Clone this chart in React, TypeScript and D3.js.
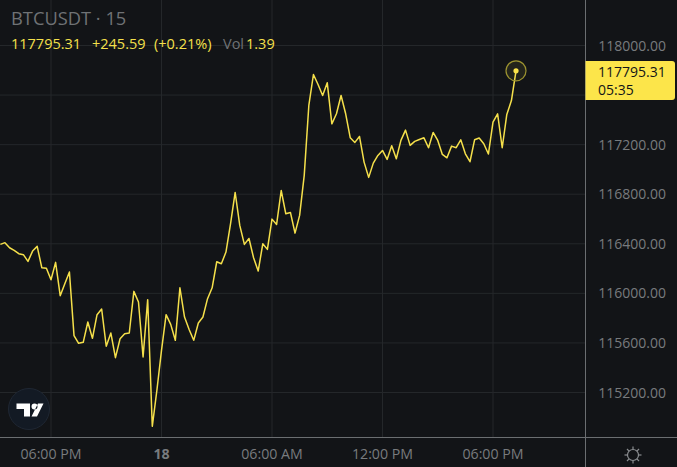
import { useMemo } from 'react'
import * as d3 from 'd3'

// 15 minute closes. Index 11 is the 06:00 PM bar
const closes = [
  116395, 116409, 116368, 116347, 116320, 116312, 116258, 116341, 116379, 116207, 116202, 116110,
  116250, 115981, 116078, 116172, 115659, 115597, 115605, 115769, 115637, 115828, 115874, 115573,
  115680, 115481, 115634, 115675, 115680, 116016, 115930, 115487, 115949, 114927,
  115218, 115540, 115828, 115750, 115621, 116045, 115809, 115709, 115621, 115761, 115809, 115957,
  116045, 116255, 116239, 116333, 116562, 116814, 116548, 116395, 116443, 116287, 116180, 116400,
  116355, 116599, 116556, 116830, 116642, 116653, 116486, 116629,
  116952, 117516, 117766, 117685, 117597, 117699, 117368, 117449, 117597, 117449, 117255, 117218,
  117266, 117059, 116936, 117051, 117113, 117153, 117081, 117191, 117086, 117234, 117317, 117194,
  117226, 117242, 117255, 117175, 117298, 117234, 117121, 117094, 117188, 117175, 117239, 117126,
  117062, 117239, 117253, 117207, 117124, 117382, 117449, 117175, 117444, 117556, 117795.31,
]

const priceTicks = [118000, 117600, 117200, 116800, 116400, 116000, 115600, 115200]
const priceLabels = [118000, 117200, 116800, 116400, 116000, 115600, 115200]
const timeTicks = [
  { bar: 11, label: '06:00 PM', bold: false },
  { bar: 35, label: '18', bold: true },
  { bar: 59, label: '06:00 AM', bold: false },
  { bar: 83, label: '12:00 PM', bold: false },
  { bar: 107, label: '06:00 PM', bold: false },
]
const lastPrice = '117795.31'
const countdown = '05:35'

const W = 677
const H = 467
const paneW = 585.5
const paneH = 437.5
const font = '"Open Sans", sans-serif'

export default function App() {
  const x = useMemo(() => d3.scaleLinear().domain([11, 107]).range([51, 493]), [])
  const y = useMemo(() => d3.scaleLinear().domain([118000, 115200]).range([45.5, 392.5]), [])

  const line = d3.line<number>()
    .x((_, i) => x(i))
    .y(d => y(d))

  const lastX = x(closes.length - 1)
  const lastY = y(closes[closes.length - 1])

  const sunRays = d3.range(8).map(i => (i * Math.PI) / 4)

  return (
    <svg
      width={W}
      height={H}
      viewBox={`0 0 ${W} ${H}`}
      style={{ position: 'absolute', left: 0, top: 0, background: '#121417', fontFamily: font }}
    >
      {/* grid */}
      {priceTicks.map(p => (
        <line key={p} x1={0} x2={paneW} y1={y(p)} y2={y(p)} stroke="#24272a" strokeWidth={1} />
      ))}
      {timeTicks.map(t => (
        <line key={t.bar} x1={x(t.bar)} x2={x(t.bar)} y1={0} y2={paneH} stroke="#24272a" strokeWidth={1} />
      ))}

      {/* price line */}
      <path d={line(closes) ?? ''} fill="none" stroke="#f5e04b" strokeWidth={1.5} strokeLinejoin="round" />
      <circle cx={lastX} cy={lastY} r={10} fill="#f5e04b" fillOpacity={0.08} stroke="#9c9330" strokeWidth={1.2} />
      <circle cx={lastX} cy={lastY} r={2.6} fill="#fce54a" />

      {/* axes */}
      <line x1={paneW} x2={paneW} y1={0} y2={H} stroke="#6b6e71" strokeWidth={1} />
      <line x1={0} x2={W} y1={paneH} y2={paneH} stroke="#6b6e71" strokeWidth={1} />

      {priceLabels.map(p => (
        <text key={p} x={666} y={y(p) + 5} textAnchor="end" fontSize={14} fill="#787b7e">
          {p.toFixed(2)}
        </text>
      ))}
      {timeTicks.map(t => (
        <text
          key={t.bar}
          x={x(t.bar)}
          y={459}
          textAnchor="middle"
          fontSize={14.2}
          fontWeight={t.bold ? 700 : 400}
          fill="#787b7e"
        >
          {t.label}
        </text>
      ))}

      {/* last price tag */}
      <path d="M585.5 61H672a3 3 0 0 1 3 3V97a3 3 0 0 1 -3 3H585.5Z" fill="#fce54a" />
      <text x={598} y={77} fontSize={14} fill="#131518">{lastPrice}</text>
      <text x={598} y={95} fontSize={14} fill="#131518">{countdown}</text>

      {/* legend */}
      <text x={11} y={25} fontSize={18.3} fill="#6f7275">BTCUSDT · 15</text>
      <text x={11} y={49} fontSize={14.5} fill="#f5e04b">117795.31</text>
      <text x={92} y={49} fontSize={14.5} fill="#f5e04b">+245.59</text>
      <text x={154} y={49} fontSize={14.5} fill="#f5e04b">(+0.21%)</text>
      <text x={223} y={49} fontSize={14.5} fill="#6f7275">Vol</text>
      <text x={246} y={49} fontSize={14.5} fill="#f5e04b">1.39</text>

      {/* logo */}
      <g transform="translate(29 409)">
        <circle r={20.5} fill="#131a24" stroke="#1f2733" strokeWidth={1} />
        <path
          d="M-12.5 -5.5H1V7.5H-5V0H-12.5ZM2.5 -2.5a3 3 0 1 0 6 0a3 3 0 1 0 -6 0ZM9 -5.5H14.5L8 7.5H2.5Z"
          fill="#fff"
        />
      </g>

      {/* settings icon */}
      <g transform="translate(633 455)" stroke="#8a8d90" strokeWidth={1.2} fill="none">
        <circle r={5.5} />
        {sunRays.map(a => (
          <line
            key={a}
            x1={Math.cos(a) * 5.5}
            y1={Math.sin(a) * 5.5}
            x2={Math.cos(a) * 8.5}
            y2={Math.sin(a) * 8.5}
          />
        ))}
      </g>
    </svg>
  )
}
